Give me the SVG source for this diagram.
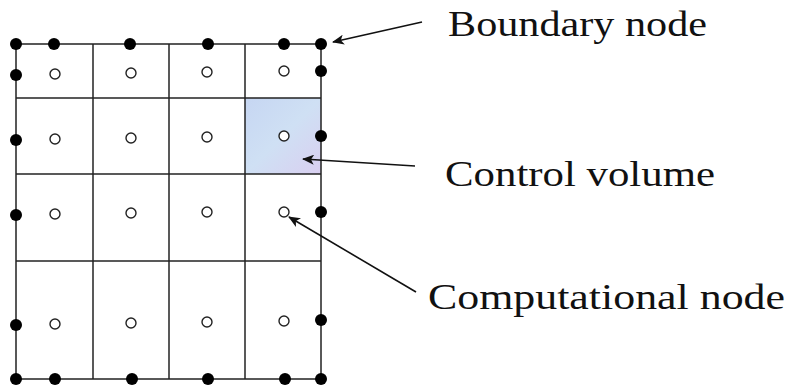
<svg xmlns="http://www.w3.org/2000/svg" width="793" height="385" viewBox="0 0 793 385">
  <style>
    .grid { stroke: #222; stroke-width: 1.5; fill: none; }
    .bnode { fill: #000; }
    .cnode { fill: #fff; stroke: #222; stroke-width: 1.4; }
    .conn { stroke: #111; stroke-width: 1.6; fill: none; marker-end: url(#arrow); }
    .label { font-family: "Liberation Serif", Tinos, "Nimbus Roman", serif; font-size: 36px; fill: #111; }
  </style>
  <defs>
    <marker id="arrow" viewBox="0 0 12 10" refX="11" refY="5" markerWidth="12" markerHeight="10" markerUnits="userSpaceOnUse" orient="auto">
      <path d="M0,0 L12,5 L0,10 L3,5 Z" fill="#111"/>
    </marker>
    <linearGradient id="cvFill" x1="0" y1="0" x2="1" y2="1">
      <stop offset="0" stop-color="#c6d6f2"/>
      <stop offset="0.5" stop-color="#cfe0f4"/>
      <stop offset="1" stop-color="#d9cff0"/>
    </linearGradient>
  </defs>

  <rect width="793" height="385" fill="#fff"/>

  <!-- highlighted control volume -->
  <g id="control-volume">
    <rect x="245" y="98" width="76" height="76" fill="url(#cvFill)"/>
  </g>

  <!-- mesh lines -->
  <g id="mesh" class="grid">
    <rect x="16" y="44" width="305" height="335"/>
    <line x1="93" y1="44" x2="93" y2="379"/>
    <line x1="169" y1="44" x2="169" y2="379"/>
    <line x1="245" y1="44" x2="245" y2="379"/>
    <line x1="16" y1="98" x2="321" y2="98"/>
    <line x1="16" y1="174" x2="321" y2="174"/>
    <line x1="16" y1="261" x2="321" y2="261"/>
  </g>

  <!-- boundary nodes -->
  <g id="boundary-nodes" class="bnode">
    <circle cx="16" cy="44" r="6"/>
    <circle cx="54" cy="44" r="6"/>
    <circle cx="130" cy="44" r="6"/>
    <circle cx="208" cy="44" r="6"/>
    <circle cx="284" cy="44" r="6"/>
    <circle cx="321" cy="44" r="6"/>
    <circle cx="16" cy="75" r="6"/>
    <circle cx="16" cy="140" r="6"/>
    <circle cx="16" cy="215" r="6"/>
    <circle cx="16" cy="325" r="6"/>
    <circle cx="321" cy="71" r="6"/>
    <circle cx="321" cy="136" r="6"/>
    <circle cx="321" cy="212" r="6"/>
    <circle cx="321" cy="320" r="6"/>
    <circle cx="16" cy="379" r="6"/>
    <circle cx="55" cy="379" r="6"/>
    <circle cx="132" cy="379" r="6"/>
    <circle cx="208" cy="379" r="6"/>
    <circle cx="285" cy="379" r="6"/>
    <circle cx="321" cy="379" r="6"/>
  </g>

  <!-- computational nodes -->
  <g id="computational-nodes" class="cnode">
    <circle cx="55" cy="74" r="5"/>
    <circle cx="131" cy="73" r="5"/>
    <circle cx="207" cy="72" r="5"/>
    <circle cx="284" cy="71" r="5"/>
    <circle cx="55" cy="139" r="5"/>
    <circle cx="131" cy="138" r="5"/>
    <circle cx="207" cy="137" r="5"/>
    <circle cx="284" cy="136" r="5"/>
    <circle cx="55" cy="214" r="5"/>
    <circle cx="131" cy="213" r="5"/>
    <circle cx="207" cy="212" r="5"/>
    <circle cx="284" cy="212" r="5"/>
    <circle cx="55" cy="324" r="5"/>
    <circle cx="131" cy="323" r="5"/>
    <circle cx="207" cy="322" r="5"/>
    <circle cx="284" cy="321" r="5"/>
  </g>

  <!-- leader arrows -->
  <g id="connectors">
    <line class="conn" x1="422" y1="22" x2="333" y2="42"/>
    <line class="conn" x1="415" y1="166" x2="303" y2="159"/>
    <line class="conn" x1="416" y1="292" x2="289" y2="217"/>
  </g>

  <!-- labels -->
  <g id="label-boundary">
    <text class="label" x="448" y="36" textLength="259" lengthAdjust="spacingAndGlyphs">Boundary node</text>
  </g>
  <g id="label-control">
    <text class="label" x="445" y="186" textLength="270" lengthAdjust="spacingAndGlyphs">Control volume</text>
  </g>
  <g id="label-computational">
    <text class="label" x="428" y="309" textLength="357" lengthAdjust="spacingAndGlyphs">Computational node</text>
  </g>
</svg>
